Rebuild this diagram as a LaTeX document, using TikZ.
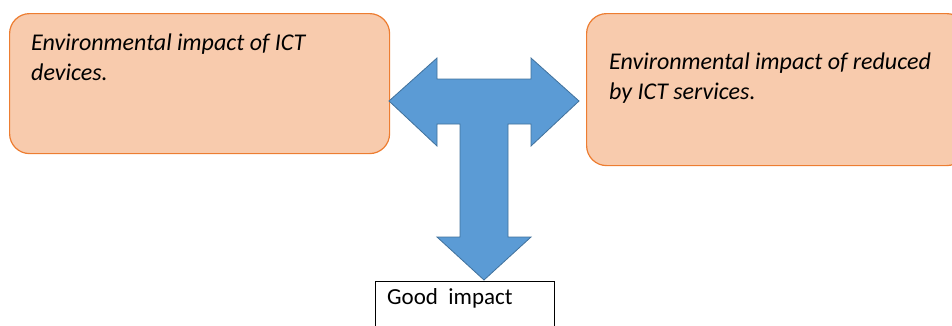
\documentclass[tikz,border=0pt]{standalone}
\usepackage{fontspec}
\setmainfont{Carlito}
\usetikzlibrary{positioning}
\definecolor{boxfill}{HTML}{F8CBAD}
\definecolor{boxline}{HTML}{ED7D31}
\definecolor{arrowfill}{HTML}{5B9BD5}
\definecolor{arrowline}{HTML}{41719C}
\tikzset{
  impactbox/.style={draw=boxline, fill=boxfill, line width=1.2pt, rounded corners=20pt, anchor=north west, inner sep=0pt},
  impacttext/.style={inner sep=0pt, align=left, font=\fontsize{24}{30}\selectfont\itshape}
}
\begin{document}
\begin{tikzpicture}[x=1pt,y=-1pt]
    \useasboundingbox (0,0) rectangle (952,325);

    % the two boxes
    \node[impactbox, minimum width=380pt, minimum height=140pt] (devices) at (9,13) {};
    \node[impactbox, minimum width=380pt, minimum height=152pt] (services) at (586,13) {};
    \node[impacttext, below right=21pt and 22pt of devices.north west] (devicestext)
        {Environmental impact of ICT\\devices.};
    \node[impacttext, below right=40pt and 23pt of services.north west] (servicestext)
        {Environmental impact of reduced\\by ICT services.};

    % the three way arrow
    \draw[fill=arrowfill, draw=arrowline, line width=0.8pt, line join=miter]
        (389,101) -- (437,58) -- (437,79) -- (531,79) -- (531,58) -- (579,101)
        -- (531,146) -- (531,124) -- (508,124) -- (508,237) -- (531,237)
        -- (484,280) -- (437,237) -- (460,237) -- (460,124) -- (437,124)
        -- (437,146) -- cycle;

    \node[draw, line width=0.8pt, anchor=north west, minimum width=179pt, minimum height=60pt, inner sep=0pt] (good) at (375,281) {};
    \node[inner sep=0pt, anchor=north west, font=\fontsize{23}{28}\selectfont, below right=7pt and 12pt of good.north west] (goodtext) {Good\ \ impact};
\end{tikzpicture}
\end{document}
